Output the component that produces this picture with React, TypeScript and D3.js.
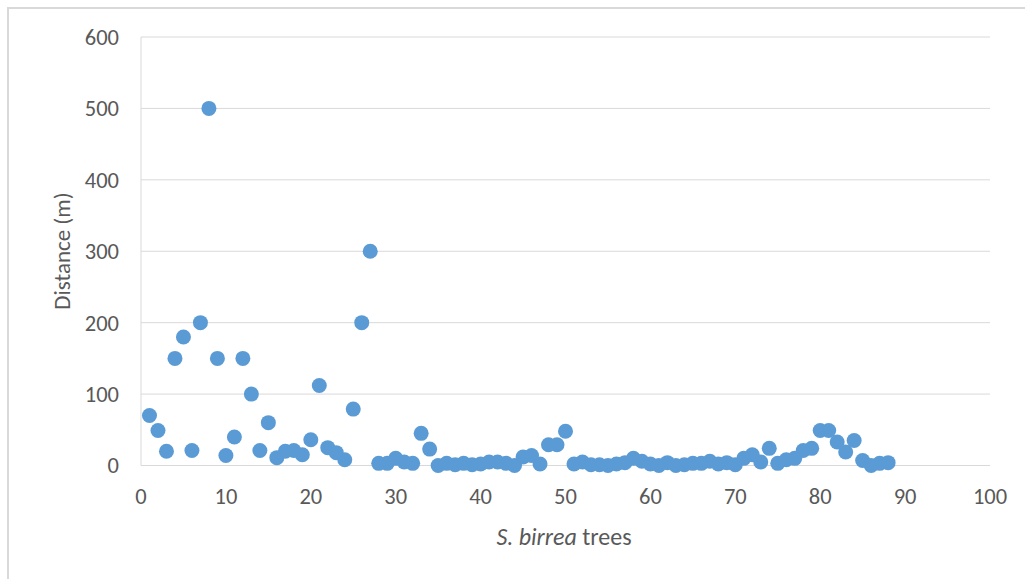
import React from 'react';
import * as d3 from 'd3';

// distance (m) for each S. birrea tree, tree 1..88
const distances: number[] = [
  70, 49, 20, 150, 180, 21, 200, 500, 150, 14,
  40, 150, 100, 21, 60, 11, 20, 21, 15, 36,
  112, 25, 18, 8, 79, 200, 300, 3, 3, 10,
  5, 3, 45, 23, 0, 3, 1, 3, 1, 2,
  5, 5, 3, 0, 12, 14, 2, 29, 29, 48,
  2, 5, 1, 1, 0, 2, 4, 10, 6, 2,
  0, 4, 0, 1, 3, 3, 6, 2, 4, 1,
  10, 15, 5, 24, 3, 8, 10, 21, 24, 49,
  49, 33, 19, 35, 7, 0, 3, 4,
];
const trees: number[] = distances.map((_, i) => i + 1);

const xTicks: number[] = [0, 10, 20, 30, 40, 50, 60, 70, 80, 90, 100];
const yTicks: number[] = [0, 100, 200, 300, 400, 500, 600];

const W = 1025;
const H = 579;
const margin = { left: 141, right: 35, top: 37, bottom: 113.5 };
const font = "Calibri, Carlito, Lato, sans-serif";
const textColor = '#595959';
const gridColor = '#d9d9d9';

const App: React.FC = () => {
  const x = d3.scaleLinear().domain([0, 100]).range([margin.left, W - margin.right]);
  const y = d3.scaleLinear().domain([0, 600]).range([H - margin.bottom, margin.top]);

  return (
    <svg
      width={W}
      height={H}
      style={{ position: 'fixed', left: 0, top: 0, background: '#fff' }}
    >
      {/* outer chart frame, runs past the right and bottom edges */}
      <rect x={8} y={8} width={1040} height={600} fill="#fff" stroke={gridColor} strokeWidth={2} />

      {/* horizontal gridlines */}
      {yTicks.map(t => (
        <line key={'g' + t} x1={x(0)} x2={x(100)} y1={y(t)} y2={y(t)} stroke={gridColor} strokeWidth={1} />
      ))}
      {/* left axis line */}
      <line x1={x(0)} x2={x(0)} y1={y(0)} y2={y(600)} stroke={gridColor} strokeWidth={1} />

      {/* y tick labels */}
      {yTicks.map(t => (
        <text
          key={'y' + t}
          x={119}
          y={y(t)}
          dy="0.35em"
          textAnchor="end"
          fontFamily={font}
          fontSize={22.5}
          fill={textColor}
        >
          {t}
        </text>
      ))}

      {/* x tick labels */}
      {xTicks.map(t => (
        <text
          key={'x' + t}
          x={x(t)}
          y={496}
          dy="0.35em"
          textAnchor="middle"
          fontFamily={font}
          fontSize={22.5}
          fill={textColor}
        >
          {t}
        </text>
      ))}

      {/* axis titles */}
      <text
        transform={`translate(62, ${251}) rotate(-90)`}
        dy="0.35em"
        textAnchor="middle"
        fontFamily={font}
        fontSize={23}
        fill={textColor}
      >
        Distance (m)
      </text>
      <text x={564} y={537} dy="0.35em" textAnchor="middle" fontFamily={font} fontSize={24} fill={textColor}>
        <tspan fontStyle="italic">S. birrea</tspan> trees
      </text>

      {/* points */}
      {distances.map((d, i) => (
        <circle key={i} cx={x(trees[i])} cy={y(d)} r={7.5} fill="#5b9bd5" />
      ))}
    </svg>
  );
};

export default App;
